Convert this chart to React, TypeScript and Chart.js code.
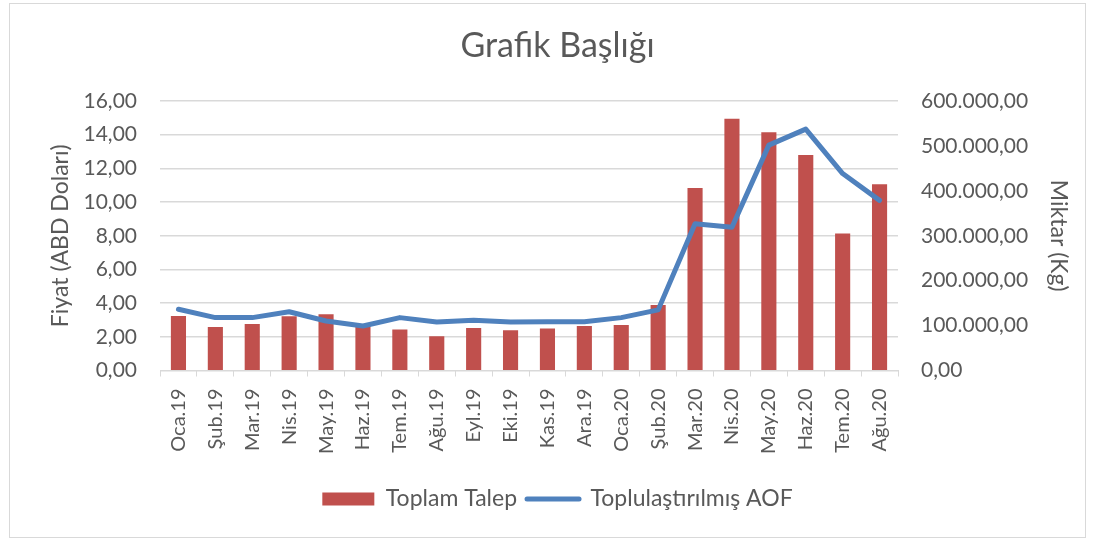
import React, { useEffect, useRef } from "react";
import { Chart, registerables } from "chart.js";

Chart.register(...registerables);

const categories = [
  "Oca.19", "Şub.19", "Mar.19", "Nis.19", "May.19", "Haz.19", "Tem.19", "Ağu.19",
  "Eyl.19", "Eki.19", "Kas.19", "Ara.19", "Oca.20", "Şub.20", "Mar.20", "Nis.20",
  "May.20", "Haz.20", "Tem.20", "Ağu.20",
];

// Toplam Talep (kg) - right axis
const toplamTalep = [
  121500, 96750, 103500, 120750, 125250, 99400, 91500, 76100,
  94500, 89600, 93750, 99000, 101250, 145900, 406100, 560250,
  530600, 480000, 304900, 414400,
];

// Toplulaştırılmış AOF (USD) - left axis
const aof = [
  3.64, 3.14, 3.14, 3.49, 2.94, 2.64, 3.14, 2.88,
  2.98, 2.88, 2.9, 2.9, 3.14, 3.6, 8.71, 8.5,
  13.38, 14.33, 11.69, 10.1,
];

const chartTitle = "Grafik Başlığı";
const leftAxisTitle = "Fiyat (ABD Doları)";
const rightAxisTitle = "Miktar (Kg)";
const barLabel = "Toplam Talep";
const lineLabel = "Toplulaştırılmış AOF";

const FONT = "Lato, 'Open Sans', sans-serif";
const TEXT = "#595959";
const GRID = "#d9d9d9";

function fmtTR(v: number): string {
  const fixed = Math.abs(v).toFixed(2);
  const [intPart, dec] = fixed.split(".");
  const withSep = intPart.replace(/\B(?=(\d{3})+(?!\d))/g, ".");
  return (v < 0 ? "-" : "") + withSep + "," + dec;
}

export default function App() {
  const ref = useRef<HTMLCanvasElement | null>(null);

  useEffect(() => {
    if (!ref.current) return;
    const chart = new Chart(ref.current, {
      type: "bar",
      data: {
        labels: categories,
        datasets: [
          {
            type: "bar",
            label: barLabel,
            data: toplamTalep,
            yAxisID: "y1",
            backgroundColor: "#c0504d",
            borderWidth: 0,
            categoryPercentage: 1,
            barPercentage: 0.41,
            order: 1,
          },
          {
            type: "line",
            label: lineLabel,
            data: aof,
            yAxisID: "y",
            borderColor: "#4f81bd",
            backgroundColor: "#4f81bd",
            borderWidth: 5,
            pointRadius: 0,
            tension: 0,
            borderJoinStyle: "round",
            borderCapStyle: "round",
            order: 0,
          },
        ] as any,
      },
      options: {
        responsive: false,
        animation: false,
        layout: { padding: { left: 30, right: 10, top: 0, bottom: 16.5 } },
        plugins: {
          tooltip: { enabled: false },
          title: {
            display: true,
            text: chartTitle,
            color: TEXT,
            font: { family: FONT, size: 34, weight: "normal" },
            padding: { top: 21.4, bottom: 34.8 },
          },
          legend: {
            position: "bottom",
            labels: {
              color: TEXT,
              font: { family: FONT, size: 23 },
              usePointStyle: true,
              pointStyleWidth: 52,
              boxHeight: 13,
              padding: 10,
              sort: (a: any, b: any) => a.datasetIndex - b.datasetIndex,
              generateLabels: (c: any) => {
                const items = (Chart.defaults.plugins.legend.labels as any).generateLabels(c);
                items.forEach((it: any) => {
                  if (it.datasetIndex === 0) {
                    it.pointStyle = "rect";
                    it.lineWidth = 0;
                    it.fillStyle = "#c0504d";
                  } else {
                    it.pointStyle = "line";
                    it.lineWidth = 5;
                    it.strokeStyle = "#4f81bd";
                    it.lineCap = "round";
                  }
                });
                return items;
              },
            },
          },
        },
        scales: {
          x: {
            offset: true,
            grid: {
              offset: true,
              drawOnChartArea: false,
              drawTicks: true,
              tickLength: 6,
              color: GRID,
            },
            border: { display: true, color: GRID, width: 1 },
            ticks: {
              autoSkip: false,
              maxRotation: 90,
              minRotation: 90,
              padding: 12,
              color: TEXT,
              font: { family: FONT, size: 20 },
            },
            afterFit: (s: any) => {
              s.height = 107;
            },
          },
          y: {
            position: "left",
            min: 0,
            max: 16,
            ticks: {
              stepSize: 2,
              padding: 23,
              color: TEXT,
              font: { family: FONT, size: 21 },
              callback: (v: any) => fmtTR(Number(v)),
            },
            grid: { color: GRID, lineWidth: 1.5, drawTicks: false },
            border: { display: false },
            title: {
              display: true,
              text: leftAxisTitle,
              color: TEXT,
              font: { family: FONT, size: 23 },
              padding: { top: 7, bottom: 0 },
            },
            afterFit: (s: any) => {
              s.width = 120;
            },
          },
          y1: {
            position: "right",
            min: 0,
            max: 600000,
            ticks: {
              stepSize: 100000,
              padding: 23,
              color: TEXT,
              font: { family: FONT, size: 21 },
              callback: (v: any) => fmtTR(Number(v)),
            },
            grid: { drawOnChartArea: false, drawTicks: false },
            border: { display: false },
            title: {
              display: true,
              text: rightAxisTitle,
              color: TEXT,
              font: { family: FONT, size: 23 },
              padding: { top: 3, bottom: 0 },
            },
            afterFit: (s: any) => {
              s.width = 177;
            },
          },
        },
      } as any,
    });
    return () => chart.destroy();
  }, []);

  return (
    <div
      style={{
        position: "absolute",
        left: 9,
        top: 3,
        width: 1077,
        height: 535,
        border: "1px solid #d9d9d9",
        boxSizing: "border-box",
        background: "#fff",
      }}
    >
      <canvas ref={ref} width={1075} height={533} style={{ display: "block" }} />
    </div>
  );
}
